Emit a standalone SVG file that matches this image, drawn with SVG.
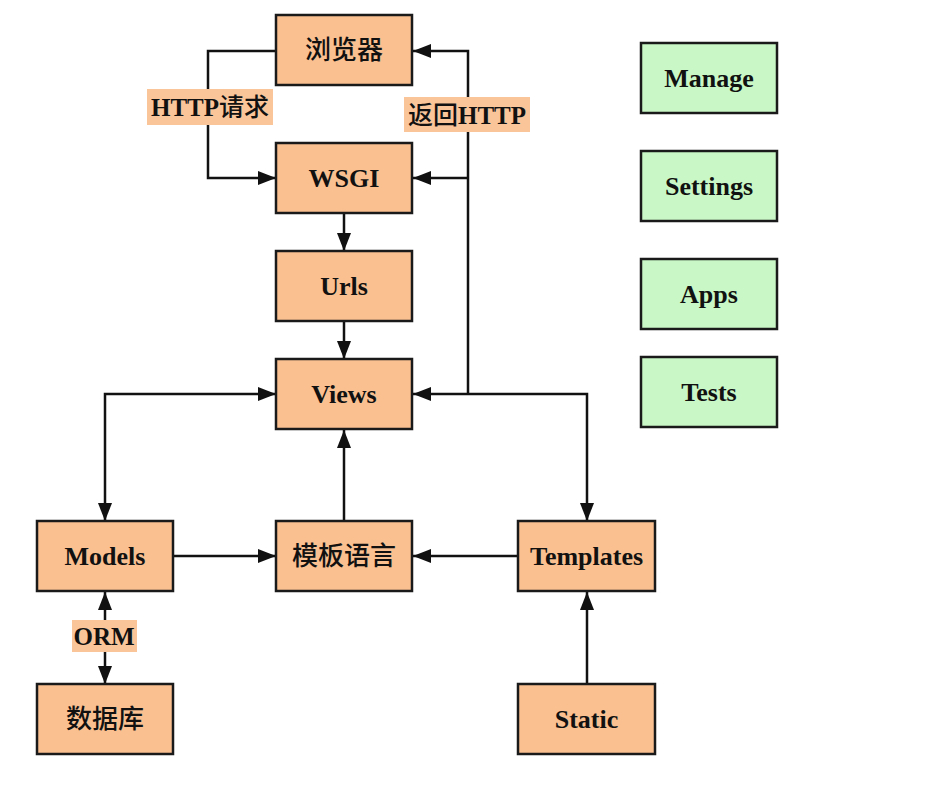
<svg xmlns="http://www.w3.org/2000/svg" width="942" height="798" viewBox="0 0 942 798">
<style>
.box{fill:#FAC090;stroke:#1a1a1a;stroke-width:2.5}
.gbox{fill:#C9F8C6;stroke:#1a1a1a;stroke-width:2.5}
.t{font-family:"Liberation Serif","Noto Sans CJK SC",serif;font-weight:bold;font-size:26px;fill:#111;text-anchor:middle}
.c{font-family:"Noto Sans CJK SC","Noto Sans",sans-serif;font-weight:500;font-size:26px;fill:#111;text-anchor:middle}
.lt{font-family:"Liberation Serif","Noto Sans CJK SC",serif;font-weight:bold;font-size:25px;fill:#111;text-anchor:middle}
.lc{font-family:"Noto Sans CJK SC",sans-serif;font-weight:500;font-size:25px}
.lbg{fill:#FBC59A}
.ln{fill:none;stroke:#111;stroke-width:2.5}
</style>
<defs>
<marker id="ah" markerUnits="userSpaceOnUse" markerWidth="19" markerHeight="15" refX="18" refY="7" orient="auto-start-reverse">
<path d="M0,0 L18,7 L0,14 z" fill="#111"/>
</marker>
</defs>
<rect width="942" height="798" fill="#fff"/>
<g id="connectors">
<path class="ln" d="M276,51 H208 V178 H276" marker-end="url(#ah)"/>
<path class="ln" d="M468,394 V51 H413" marker-end="url(#ah)"/>
<path class="ln" d="M468,178 H413" marker-end="url(#ah)"/>
<path class="ln" d="M587,521 V394 H413" marker-start="url(#ah)" marker-end="url(#ah)"/>
<path class="ln" d="M344,213 V251" marker-end="url(#ah)"/>
<path class="ln" d="M344,321 V359" marker-end="url(#ah)"/>
<path class="ln" d="M276,394 H105 V521" marker-start="url(#ah)" marker-end="url(#ah)"/>
<path class="ln" d="M344,521 V430" marker-end="url(#ah)"/>
<path class="ln" d="M173,556 H276" marker-end="url(#ah)"/>
<path class="ln" d="M518,556 H413" marker-end="url(#ah)"/>
<path class="ln" d="M105,592 V684" marker-start="url(#ah)" marker-end="url(#ah)"/>
<path class="ln" d="M587,684 V592" marker-end="url(#ah)"/>
<g id="label-http-req">
<rect class="lbg" x="147" y="89" width="126" height="36"/>
<text class="lt" x="210" y="116">HTTP<tspan class="lc">请求</tspan></text>
</g>
<g id="label-http-ret">
<rect class="lbg" x="404" y="97" width="126" height="35"/>
<text class="lt" x="467" y="124"><tspan class="lc">返回</tspan>HTTP</text>
</g>
<g id="label-orm">
<rect class="lbg" x="72" y="620" width="65" height="32"/>
<text class="lt" x="104" y="645">ORM</text>
</g>
</g>
<g id="browser"><rect class="box" x="276" y="15" width="136" height="70"/><text class="c" x="344" y="59">浏览器</text></g>
<g id="wsgi"><rect class="box" x="276" y="143" width="136" height="70"/><text class="t" x="344" y="187">WSGI</text></g>
<g id="urls"><rect class="box" x="276" y="251" width="136" height="70"/><text class="t" x="344" y="295">Urls</text></g>
<g id="views"><rect class="box" x="276" y="359" width="136" height="70"/><text class="t" x="344" y="403">Views</text></g>
<g id="models"><rect class="box" x="37" y="521" width="136" height="70"/><text class="t" x="105" y="565">Models</text></g>
<g id="template-lang"><rect class="box" x="276" y="521" width="136" height="70"/><text class="c" x="344" y="565">模板语言</text></g>
<g id="templates"><rect class="box" x="518" y="521" width="137" height="70"/><text class="t" x="586.5" y="565">Templates</text></g>
<g id="database"><rect class="box" x="37" y="684" width="136" height="70"/><text class="c" x="105" y="728">数据库</text></g>
<g id="static"><rect class="box" x="518" y="684" width="137" height="70"/><text class="t" x="586.5" y="728">Static</text></g>
<g id="manage"><rect class="gbox" x="641" y="43" width="136" height="70"/><text class="t" x="709" y="87">Manage</text></g>
<g id="settings"><rect class="gbox" x="641" y="151" width="136" height="70"/><text class="t" x="709" y="195">Settings</text></g>
<g id="apps"><rect class="gbox" x="641" y="259" width="136" height="70"/><text class="t" x="709" y="303">Apps</text></g>
<g id="tests"><rect class="gbox" x="641" y="357" width="136" height="70"/><text class="t" x="709" y="401">Tests</text></g>
</svg>
